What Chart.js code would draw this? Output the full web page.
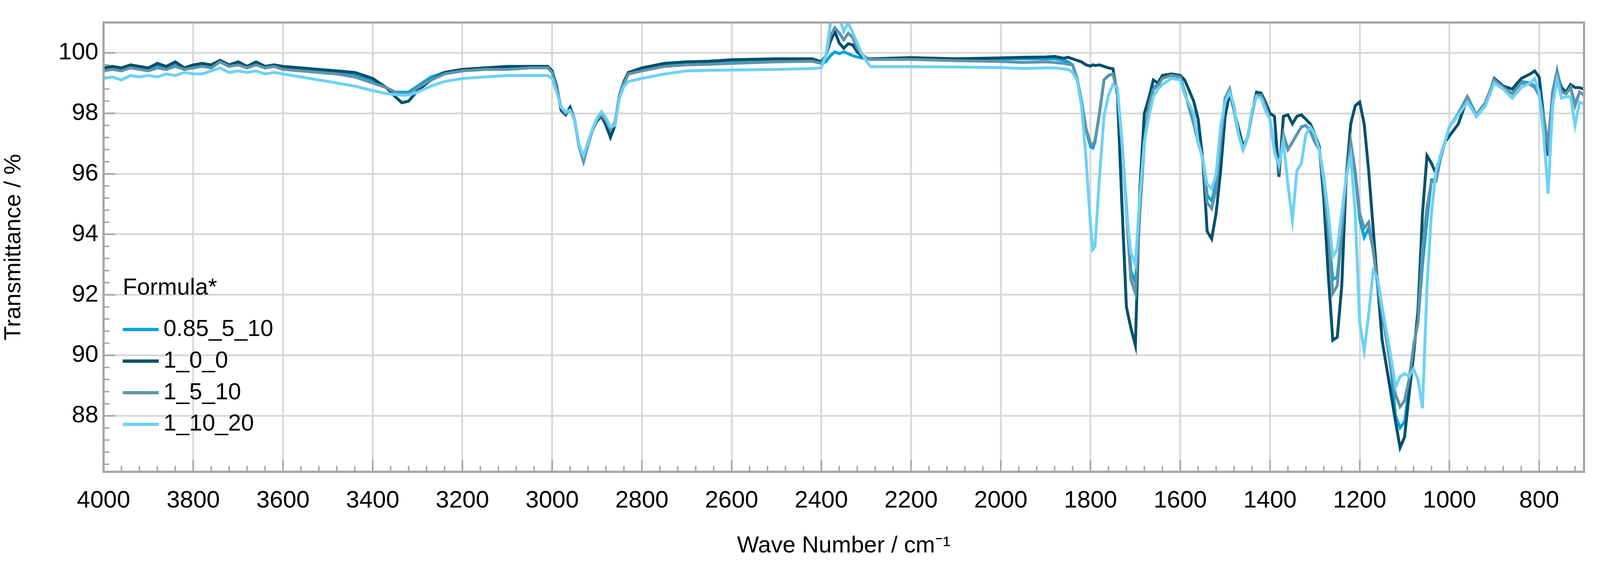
<!DOCTYPE html>
<html>
<head>
<meta charset="utf-8">
<script src="https://cdn.jsdelivr.net/npm/chart.js@4.4.1/dist/chart.umd.min.js"></script>
<style>
  html, body { margin: 0; padding: 0; background: #fff; overflow: hidden; }
  #wrap { position: relative; width: 100vw; height: 100vh; }
</style>
</head>
<body>
<div id="wrap"><canvas id="chart"></canvas></div>
<script>
const wavenumbers = [
  4000,3980,3960,3940,3920,3900,3880,3860,3840,3820,3800,3780,3760,3740,3720,3700,3680,3660,3640,3620,3600,
  3560,3520,3480,3440,3400,3370,3350,3335,3320,3300,3270,3240,3200,3150,3100,3050,3010,
  3000,2990,2980,2970,2960,2950,2940,2930,2920,2910,2900,2890,2880,2870,2860,2850,2840,2830,2800,2750,2700,2650,2600,2500,2420,2400,2390,2380,2370,2360,2350,2340,2330,2320,2310,2300,2290,2200,2100,2000,1950,1900,1880,1860,1850,
  1840,1830,1820,1810,1800,1795,1790,1780,1770,1760,1750,1740,1730,1720,1710,1700,1690,1680,1670,1660,1650,1640,1620,1600,1590,1570,
  1560,1550,1540,1530,1520,1510,1500,1490,1480,1470,1460,1450,1440,1430,1420,1410,1400,1390,1380,1370,1360,1350,1340,1330,1320,1310,1300,1290,1280,1270,1260,1250,1240,1230,1220,1210,1200,1190,1180,1170,1160,1150,1140,1130,1120,1110,1100,1090,1080,1070,1060,1050,1040,1030,1020,1010,1000,
  980,960,940,920,900,880,860,840,820,810,800,790,780,770,760,750,740,730,720,710,700
]

const f_085_5_10 = [
  99.45,99.5,99.45,99.55,99.5,99.45,99.6,99.5,99.6,99.5,99.55,99.6,99.55,99.7,99.55,99.65,99.5,99.65,99.5,99.55,99.5,
  99.45,99.4,99.35,99.25,99.05,98.85,98.7,98.7,98.7,98.9,99.2,99.35,99.45,99.5,99.5,99.55,99.55,
  99.4,98.85,98.15,98.0,98.15,97.8,96.9,96.5,97.0,97.45,97.8,97.95,97.7,97.35,97.65,98.6,99.05,99.35,99.45,99.6,99.65,99.68,99.7,99.75,99.75,99.65,99.7,99.9,100.03,99.97,100.03,99.97,99.9,99.86,99.83,99.8,99.78,99.8,99.78,99.8,99.8,99.8,99.8,99.75,99.7,
  99.6,99.15,98.4,97.45,96.9,96.85,97.05,98.0,99.1,99.25,99.3,98.7,97.05,94.9,92.8,92.4,94.8,97.05,98.25,98.85,98.95,99.2,99.3,99.25,98.7,97.65,
  97.05,96.5,95.3,95.1,95.7,97.05,98.5,98.8,98.1,97.3,96.8,97.2,98.0,98.6,98.6,98.25,97.8,96.8,96.3,97.3,96.8,97.05,97.3,97.55,97.6,97.4,97.05,96.8,95.6,94.2,92.5,92.6,94.1,95.9,97.05,96.0,94.5,93.9,94.2,93.5,92.3,91.35,90.5,89.5,88.0,87.6,87.8,88.9,90.3,91.1,93.0,94.5,95.8,95.8,96.5,97.05,97.55,
  98.0,98.55,97.95,98.35,99.1,98.85,98.65,99.05,99.0,98.9,98.65,97.9,96.95,98.7,99.4,98.75,98.65,98.85,98.3,98.7,98.6
]

const f_1_0_0 = [
  99.5,99.55,99.5,99.6,99.55,99.5,99.65,99.55,99.7,99.5,99.6,99.65,99.6,99.75,99.6,99.7,99.55,99.7,99.55,99.6,99.55,
  99.5,99.45,99.4,99.35,99.15,98.85,98.55,98.35,98.4,98.75,99.1,99.35,99.45,99.5,99.55,99.55,99.55,
  99.4,98.9,98.1,97.95,98.2,97.8,96.9,96.45,97.0,97.45,97.75,97.9,97.6,97.2,97.6,98.6,99.05,99.35,99.5,99.65,99.7,99.72,99.77,99.8,99.8,99.7,99.9,100.37,100.7,100.32,100.15,100.3,100.26,100.03,99.9,99.83,99.8,99.84,99.8,99.83,99.85,99.86,99.88,99.82,99.85,
  99.8,99.75,99.7,99.6,99.56,99.6,99.58,99.6,99.55,99.5,99.47,98.6,95.0,91.6,90.9,90.33,95.5,98.0,98.5,99.1,99.0,99.25,99.3,99.25,99.1,98.4,
  97.8,96.5,94.1,93.85,94.7,96.1,97.9,98.67,98.1,97.5,96.9,97.2,98.0,98.7,98.67,98.37,98.0,97.9,95.9,97.9,97.95,97.65,97.9,97.95,97.8,97.65,97.3,96.9,95.15,92.65,90.5,90.6,92.3,95.9,97.65,98.25,98.37,97.65,96.1,94.2,92.3,90.5,89.6,88.7,87.8,86.95,87.3,88.7,90.0,91.5,94.7,96.6,96.35,96.0,96.6,97.05,97.25,
  97.65,98.5,97.9,98.25,99.15,98.9,98.8,99.15,99.3,99.4,99.2,97.9,96.6,98.7,99.3,98.85,98.7,98.95,98.85,98.85,98.8
]

const f_1_5_10 = [
  99.4,99.45,99.4,99.5,99.45,99.4,99.5,99.45,99.55,99.45,99.5,99.55,99.5,99.7,99.55,99.6,99.5,99.6,99.5,99.55,99.45,
  99.4,99.35,99.3,99.2,99.0,98.85,98.7,98.65,98.65,98.85,99.1,99.3,99.4,99.45,99.45,99.5,99.5,
  99.35,98.8,98.2,98.0,98.1,97.8,96.9,96.4,96.95,97.45,97.8,97.95,97.75,97.45,97.7,98.6,99.0,99.3,99.4,99.55,99.6,99.62,99.65,99.7,99.72,99.65,99.9,100.55,100.83,100.65,100.43,100.65,100.5,100.15,99.95,99.83,99.78,99.78,99.74,99.71,99.68,99.7,99.68,99.65,99.62,
  99.6,99.15,98.4,97.5,97.0,96.95,97.1,98.0,99.1,99.25,99.3,98.7,97.05,94.7,92.5,92.05,94.7,97.05,98.25,98.8,98.9,99.15,99.25,99.2,98.7,97.65,
  97.05,96.5,95.05,94.85,95.5,97.05,98.5,98.8,98.1,97.3,96.8,97.2,98.0,98.6,98.6,98.25,97.8,96.8,96.2,97.3,96.8,97.05,97.3,97.55,97.6,97.4,97.05,96.8,95.6,94.1,92.05,92.3,94.1,95.9,97.05,96.1,94.7,94.2,94.4,93.5,92.3,91.35,90.5,89.55,88.7,88.3,88.5,89.2,90.3,91.1,93.5,94.9,95.75,95.75,96.5,97.05,97.55,
  98.0,98.55,97.95,98.35,99.1,98.85,98.65,99.0,98.95,98.85,98.6,97.9,96.95,98.7,99.4,98.7,98.65,98.85,98.25,98.7,98.6
]

const f_1_10_20 = [
  99.15,99.2,99.1,99.25,99.2,99.25,99.2,99.3,99.25,99.35,99.3,99.3,99.4,99.5,99.35,99.4,99.35,99.4,99.3,99.35,99.3,
  99.2,99.1,99.0,98.9,98.75,98.65,98.62,98.6,98.6,98.7,98.9,99.05,99.15,99.2,99.25,99.25,99.25,
  99.15,98.7,98.2,98.05,98.1,97.8,96.95,96.6,97.05,97.5,97.85,98.05,97.85,97.55,97.6,98.5,98.9,99.05,99.15,99.3,99.4,99.42,99.43,99.45,99.48,99.5,99.9,100.95,101.5,101.2,100.7,101.0,100.66,100.32,99.97,99.74,99.54,99.54,99.53,99.51,99.48,99.5,99.5,99.47,99.45,
  99.35,99.1,98.25,96.5,94.3,93.5,93.6,95.9,97.9,98.6,98.95,98.85,97.05,94.7,93.4,93.0,95.3,97.05,97.9,98.55,98.8,98.95,99.15,99.1,98.6,98.0,
  97.05,96.5,95.65,95.5,96.0,97.55,98.37,98.7,98.25,97.3,96.8,97.2,98.1,98.55,98.5,98.1,97.8,96.7,96.3,97.05,95.65,94.45,96.1,96.35,97.3,97.55,97.3,96.8,95.9,94.7,93.25,93.5,94.7,95.9,96.6,94.7,91.1,90.15,91.35,92.8,92.55,91.6,90.75,89.9,88.95,89.3,89.4,89.3,89.55,89.2,88.25,92.3,94.7,96.1,96.6,97.05,97.55,
  97.95,98.37,97.9,98.25,99.0,98.8,98.5,98.85,99.0,99.15,98.7,97.3,95.35,98.25,99.1,98.5,98.55,98.55,97.6,98.37,98.3
]

const seriesNames = ['0.85_5_10', '1_0_0', '1_5_10', '1_10_20']
const seriesValues = [f_085_5_10, f_1_0_0, f_1_5_10, f_1_10_20]
const seriesColors = ['#00a3dd', '#00506c', '#5f94aa', '#6dd1f6']
const drawOrder = [3, 2, 1, 0]  // light series drawn on top

const FONT = 'Arial, "Liberation Sans", sans-serif'
// all sizes below are in reference pixels, scaled to the actual viewport
const S = window.innerWidth / 4405
const px = (v) => v * S

const frameAndTicks = {
  id: 'frameAndTicks',
  beforeDatasetsDraw(chart) {
    const { ctx, chartArea: a, scales: { x, y } } = chart
    ctx.save()
    ctx.strokeStyle = '#a5a5a5'
    ctx.lineWidth = px(4)
    ctx.beginPath()
    for (let v = 4000; v >= 700; v -= 40) {
      const p = x.getPixelForValue(v)
      const len = v % 200 === 0 ? px(32) : px(16)
      ctx.moveTo(p, a.bottom)
      ctx.lineTo(p, a.bottom - len)
    }
    for (let i = 0; ; i++) {
      const v = 100 - i * 0.4
      if (v < y.min) break
      const p = y.getPixelForValue(v)
      const len = i % 5 === 0 ? px(32) : px(16)
      ctx.moveTo(a.left, p)
      ctx.lineTo(a.left + len, p)
    }
    ctx.stroke()
    ctx.restore()
  },
  afterDraw(chart) {
    const { ctx, chartArea: a } = chart
    ctx.save()
    ctx.strokeStyle = '#a5a5a5'
    ctx.lineWidth = px(6)
    ctx.strokeRect(a.left, a.top, a.right - a.left, a.bottom - a.top)

    // legend
    ctx.fillStyle = '#000'
    ctx.font = px(64) + 'px ' + FONT
    ctx.textBaseline = 'middle'
    ctx.textAlign = 'left'
    ctx.fillText('Formula*', px(338), px(793))
    seriesNames.forEach((name, i) => {
      const yy = px(907 + i * 87)
      ctx.strokeStyle = seriesColors[i]
      ctx.lineWidth = px(9)
      ctx.beginPath()
      ctx.moveTo(px(338), yy)
      ctx.lineTo(px(437), yy)
      ctx.stroke()
      ctx.fillText(name, px(450), yy)
    })
    ctx.restore()
  }
}

new Chart(document.getElementById('chart'), {
  type: 'line',
  data: {
    datasets: seriesNames.map((name, i) => ({
      label: name,
      data: wavenumbers.map((w, j) => ({ x: w, y: seriesValues[i][j] })),
      borderColor: seriesColors[i],
      borderWidth: px(8),
      pointRadius: 0,
      tension: 0,
      fill: false,
      order: drawOrder[i]
    }))
  },
  options: {
    responsive: true,
    maintainAspectRatio: false,
    animation: false,
    layout: { padding: { top: px(62), right: px(44), left: 0, bottom: 0 } },
    plugins: { legend: { display: false }, tooltip: { enabled: false } },
    scales: {
      x: {
        type: 'linear',
        reverse: true,
        min: 700,
        max: 4000,
        afterFit: (s) => { s.height = px(251) },
        grid: { color: '#d8d8d8', lineWidth: px(5), drawTicks: false },
        border: { display: false },
        ticks: {
          stepSize: 200,
          includeBounds: false,
          autoSkip: false,
          maxRotation: 0,
          padding: px(40),
          color: '#000',
          font: { size: px(66), family: FONT },
          callback: (v) => String(v)
        },
        title: {
          display: true,
          text: 'Wave Number / cm\u207B\u00B9',
          color: '#000',
          padding: { top: 0, bottom: px(8) },
          font: { size: px(64), family: FONT }
        }
      },
      y: {
        min: 86.15,
        max: 101,
        afterFit: (s) => { s.width = px(285) },
        grid: { color: '#d8d8d8', lineWidth: px(5), drawTicks: false },
        border: { display: false },
        ticks: {
          stepSize: 2,
          includeBounds: false,
          padding: px(14),
          color: '#000',
          font: { size: px(66), family: FONT },
          callback: (v) => String(v)
        },
        title: {
          display: true,
          text: 'Transmittance / %',
          color: '#000',
          padding: { top: 0, bottom: px(26) },
          font: { size: px(64), family: FONT }
        }
      }
    }
  },
  plugins: [frameAndTicks]
})
</script>
</body>
</html>
